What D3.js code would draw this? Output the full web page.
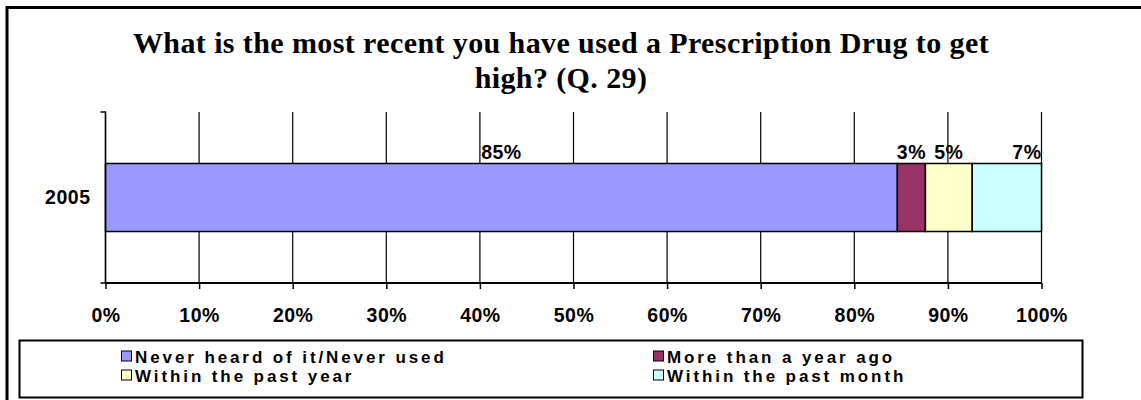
<!DOCTYPE html>
<html>
<head>
<meta charset="utf-8">
<script src="https://cdn.jsdelivr.net/npm/d3@7"></script>
<style>
  body { margin: 0; background: #fff; }
  svg { display: block; }
  text { font-family: "Liberation Sans", Arial, sans-serif; font-weight: bold; fill: #000; }
  .title { font-family: "Liberation Serif", "Times New Roman", serif; font-size: 30px; letter-spacing: 0.4px; }
</style>
</head>
<body>
<svg id="chart" width="1141" height="400"></svg>
<script>
const categories = ['2005'];
const seriesNames = ['Never heard of it/Never used', 'More than a year ago', 'Within the past year', 'Within the past month'];
const seriesValues = [84.6, 3.0, 5.0, 7.4];
const seriesColors = ['#9999FF', '#993366', '#FFFFCC', '#CCFFFF'];
const xTicks = [0, 10, 20, 30, 40, 50, 60, 70, 80, 90, 100];
const titleLines = ['What is the most recent you have used a Prescription Drug to get', 'high? (Q. 29)'];

const svg = d3.select('#chart');
const margin = { top: 112, left: 105.5 };
const plotW = 936, plotH = 171;
const labelFont = '19.5px', labelSpacing = '0.5px';

// outer frame (right/bottom edges run off the picture)
svg.append('path')
  .attr('d', 'M7,400 V7.5 H1141')
  .attr('fill', 'none').attr('stroke', '#000').attr('stroke-width', 3);

svg.selectAll('text.title')
  .data(titleLines)
  .join('text')
  .attr('class', 'title')
  .attr('x', 561)
  .attr('y', (d, i) => 53 + i * 35)
  .attr('text-anchor', 'middle')
  .text(d => d);

const x = d3.scaleLinear().domain([0, 100]).range([0, plotW]);
const y = d3.scaleBand().domain(categories).range([0, plotH]).paddingInner(0).paddingOuter(0.757);

const g = svg.append('g').attr('transform', `translate(${margin.left},${margin.top})`);

// gridlines
g.selectAll('line.grid')
  .data(xTicks)
  .join('line')
  .attr('x1', d => x(d)).attr('x2', d => x(d))
  .attr('y1', 0).attr('y2', plotH)
  .attr('stroke', '#000').attr('stroke-width', 1.2);

// stacked segments
let acc = 0;
const segs = seriesValues.map((v, i) => {
  const s = { name: seriesNames[i], value: v, start: acc, end: acc + v, color: seriesColors[i], last: i === seriesValues.length - 1 };
  acc += v;
  return s;
});

categories.forEach(cat => {
  g.selectAll('rect.seg')
    .data(segs)
    .join('rect')
    .attr('x', d => x(d.start))
    .attr('width', d => x(d.end) - x(d.start))
    .attr('y', y(cat))
    .attr('height', y.bandwidth())
    .attr('fill', d => d.color)
    .attr('stroke', '#000').attr('stroke-width', 1.5);

  g.selectAll('text.lbl')
    .data(segs)
    .join('text')
    .attr('x', d => d.last ? x(d.end) : x((d.start + d.end) / 2))
    .attr('y', y(cat) - 4)
    .attr('text-anchor', d => d.last ? 'end' : 'middle')
    .style('font-size', labelFont)
    .style('letter-spacing', labelSpacing)
    .text(d => d3.format('.0f')(d.value) + '%');
});

// x axis
const xAxis = g.append('g')
  .attr('transform', `translate(0,${plotH})`)
  .call(d3.axisBottom(x).tickValues(xTicks).tickSize(6).tickPadding(19).tickFormat(d => d + '%'));
xAxis.select('.domain').attr('stroke', '#000').attr('stroke-width', 2).attr('d', `M0,0H${plotW}`);
xAxis.selectAll('.tick line').attr('stroke', '#000').attr('stroke-width', 1.5);
xAxis.selectAll('.tick text')
  .style('font-size', labelFont).style('letter-spacing', labelSpacing).attr('font-family', null);

// y axis
const yAxis = g.append('g')
  .call(d3.axisLeft(y).tickSize(0).tickPadding(15));
yAxis.select('.domain').attr('stroke', '#000').attr('stroke-width', 1.5).attr('d', `M-5,0H0V${plotH}H-5`);
yAxis.selectAll('.tick text')
  .style('font-size', labelFont).style('letter-spacing', labelSpacing).attr('font-family', null);

// legend
const legend = svg.append('g');
legend.append('rect')
  .attr('x', 19.5).attr('y', 340.5).attr('width', 1063).attr('height', 57)
  .attr('fill', '#fff').attr('stroke', '#000').attr('stroke-width', 2);

const legCols = [121, 653];
const items = legend.selectAll('g.item')
  .data(segs)
  .join('g')
  .attr('transform', (d, i) => `translate(${legCols[i % 2]},${350.5 + Math.floor(i / 2) * 19})`);
items.append('rect')
  .attr('x', 0.5).attr('y', 0.5).attr('width', 10).attr('height', 10)
  .attr('fill', d => d.color).attr('stroke', '#000').attr('stroke-width', 1);
items.append('text')
  .attr('x', 14).attr('y', 12.5)
  .style('font-size', '17px')
  .style('letter-spacing', '2.9px')
  .text(d => d.name);
</script>
</body>
</html>
